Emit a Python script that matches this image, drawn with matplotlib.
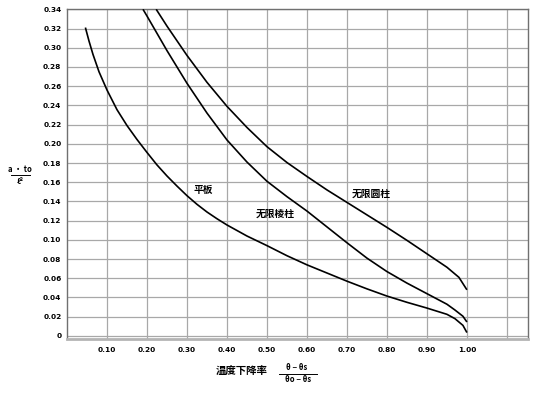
import matplotlib
matplotlib.use("Agg")
import matplotlib.pyplot as plt
from matplotlib.lines import Line2D

plt.rcParams['font.family'] = ['Noto Sans CJK SC', 'DejaVu Sans']

# Data
slab_x = [0.046, 0.055, 0.065, 0.08, 0.10, 0.125, 0.15, 0.175, 0.20, 0.225, 0.25, 0.275, 0.30,
          0.325, 0.35, 0.375, 0.40, 0.45, 0.50, 0.55, 0.60, 0.65, 0.70, 0.75, 0.80, 0.85, 0.90,
          0.95, 0.97, 0.99, 1.00]
slab_y = [0.321, 0.307, 0.293, 0.275, 0.256, 0.2355, 0.219, 0.2045, 0.191, 0.178, 0.1665, 0.156, 0.146,
          0.137, 0.129, 0.122, 0.1155, 0.104, 0.094, 0.0835, 0.074, 0.0655, 0.057, 0.049, 0.0415, 0.035, 0.029,
          0.0225, 0.018, 0.011, 0.0035]

prism_x = [0.19, 0.20, 0.25, 0.30, 0.35, 0.40, 0.45, 0.50, 0.55, 0.60, 0.65, 0.70, 0.75,
           0.80, 0.85, 0.90, 0.95, 0.97, 0.99, 1.00]
prism_y = [0.340, 0.333, 0.297, 0.263, 0.232, 0.204, 0.181, 0.161, 0.145, 0.130, 0.1135, 0.097, 0.081,
           0.067, 0.055, 0.044, 0.033, 0.027, 0.0205, 0.0145]

cyl_x = [0.223, 0.25, 0.30, 0.35, 0.40, 0.45, 0.50, 0.55, 0.60, 0.65, 0.70, 0.75, 0.80,
         0.85, 0.90, 0.95, 0.98, 1.00]
cyl_y = [0.340, 0.3225, 0.292, 0.264, 0.239, 0.217, 0.197, 0.1805, 0.166, 0.152, 0.139, 0.126, 0.113,
         0.0995, 0.0855, 0.0715, 0.061, 0.048]

curve_labels = ['平板', '无限棱柱', '无限圆柱']
label_pos = [(0.34, 0.152), (0.52, 0.127), (0.76, 0.148)]

x_ticks = [0.10, 0.20, 0.30, 0.40, 0.50, 0.60, 0.70, 0.80, 0.90, 1.00, 1.10]
x_ticklabels = ['0.10', '0.20', '0.30', '0.40', '0.50', '0.60', '0.70', '0.80', '0.90', '1.00', '']
y_ticks = [0.00, 0.02, 0.04, 0.06, 0.08, 0.10, 0.12, 0.14, 0.16, 0.18, 0.20, 0.22, 0.24, 0.26,
           0.28, 0.30, 0.32, 0.34]
y_ticklabels = ['0', '0.02', '0.04', '0.06', '0.08', '0.10', '0.12', '0.14', '0.16', '0.18',
                '0.20', '0.22', '0.24', '0.26', '0.28', '0.30', '0.32', '0.34']

W, H = 536, 396
fig = plt.figure(figsize=(W / 100, H / 100), dpi=100)
ax = fig.add_axes([67 / W, 1 - 339 / H, (527.5 - 67) / W, (339 - 9.3) / H])

ax.set_xlim(0, 1.1515)
ax.set_ylim(-0.0032, 0.34)

for xs, ys in [(slab_x, slab_y), (prism_x, prism_y), (cyl_x, cyl_y)]:
    ax.plot(xs, ys, color='black', lw=1.2, solid_capstyle='butt', solid_joinstyle='round', zorder=3)

for lab, (lx, ly) in zip(curve_labels, label_pos):
    ax.text(lx, ly, lab, fontsize=7, fontweight='bold', ha='center', va='center', zorder=4)

ax.set_xticks(x_ticks)
ax.set_xticklabels(x_ticklabels)
ax.set_yticks(y_ticks)
ax.set_yticklabels(y_ticklabels)
ax.tick_params(length=0, labelsize=5.3)
ax.tick_params(axis='y', pad=4)
ax.tick_params(axis='x', pad=6)
for t in ax.get_xticklabels() + ax.get_yticklabels():
    t.set_fontweight('bold')
    t.set_family(['DejaVu Sans'])

ax.grid(True, color='#a8a8a8', lw=0.9)
ax.set_axisbelow(True)
for s in ['top', 'right', 'left']:
    ax.spines[s].set_color('#707070')
    ax.spines[s].set_linewidth(1.0)
ax.spines['bottom'].set_color('#b4b4b4')
ax.spines['bottom'].set_linewidth(2.0)

# y-axis label (fraction)
fig.text(20 / W, 1 - 170 / H, 'a · to', fontsize=5.5, fontweight='bold', ha='center', va='center')
fig.add_artist(Line2D([11 / W, 30 / W], [1 - 175.5 / H, 1 - 175.5 / H], color='black', lw=0.7))
fig.text(20 / W, 1 - 182 / H, 'ℓ²', fontsize=5.5, fontweight='bold', ha='center', va='center')

# x-axis label
fig.text(241.5 / W, 1 - 372 / H, '温度下降率', fontsize=7.5, fontweight='bold', ha='center', va='center')
fig.text(297 / W, 1 - 367 / H, 'θ − θs', fontsize=5.5, fontweight='bold', ha='center', va='center')
fig.add_artist(Line2D([279 / W, 317 / W], [1 - 373.5 / H, 1 - 373.5 / H], color='black', lw=0.7))
fig.text(298 / W, 1 - 380 / H, 'θo − θs', fontsize=5.5, fontweight='bold', ha='center', va='center')

fig.savefig('out.png', dpi=100)
